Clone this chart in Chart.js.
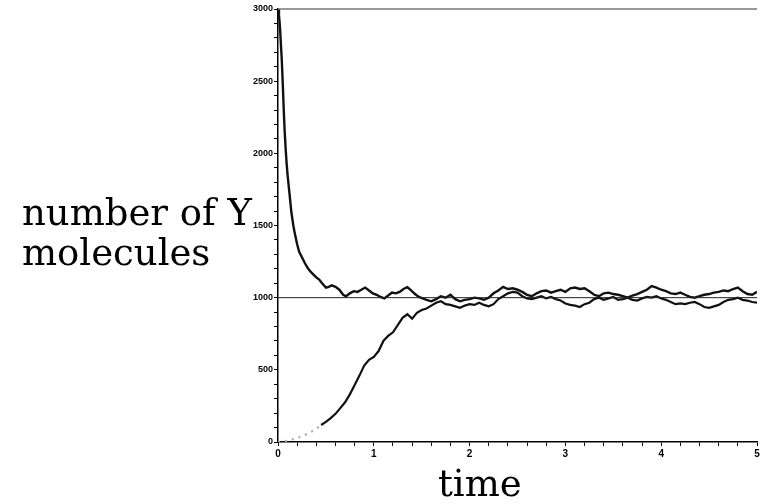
<!DOCTYPE html>
<html>
<head>
<meta charset="utf-8">
<script src="https://cdn.jsdelivr.net/npm/chart.js@4/dist/chart.umd.min.js"></script>
<style>
  html, body { margin: 0; padding: 0; background: #fff; }
  #wrap { position: relative; width: 770px; height: 504px; }
  canvas { position: absolute; left: 0; top: 0; }
  .lbl { position: absolute; font-family: "DejaVu Serif", serif; font-size: 37px; line-height: 40px; color: #000; white-space: nowrap; }
</style>
</head>
<body>
<div id="wrap">
  <canvas id="c" width="770" height="504"></canvas>
  <div class="lbl" id="ylab" style="left:22px; top:193px;">number of Y<br>molecules</div>
  <div class="lbl" id="xlab" style="left:438px; top:464px;">time</div>
</div>
<script>
// ---- data ----
const tDecay = [0,0.01,0.02,0.03,0.04,0.05,0.06,0.07,0.08,0.09,0.10,0.12,0.14,0.16,0.18,0.20,0.22,0.25,0.28,0.31,0.34,0.37,0.40,0.43,0.46,0.50,0.53,0.56,0.60,0.64,0.68,0.71,0.75,0.79,0.83,0.87,0.91,0.95,0.99,1.03,1.07,1.11,1.15,1.19,1.23,1.27,1.31,1.35,1.39,1.43,1.47,1.51,1.55,1.60,1.65,1.70,1.75,1.80,1.85,1.90,1.95,2.00,2.05,2.10,2.15,2.20,2.25,2.30,2.35,2.40,2.45,2.50,2.55,2.60,2.65,2.70,2.75,2.80,2.85,2.90,2.95,3.00,3.05,3.10,3.15,3.20,3.25,3.30,3.35,3.40,3.45,3.50,3.55,3.60,3.65,3.70,3.75,3.80,3.85,3.90,3.95,4.00,4.05,4.10,4.15,4.20,4.25,4.30,4.35,4.40,4.45,4.50,4.55,4.60,4.65,4.70,4.75,4.80,4.85,4.90,4.95,5.00];
const yDecay = [3000,2960,2880,2760,2640,2480,2300,2150,2030,1930,1850,1720,1590,1500,1430,1370,1320,1280,1240,1205,1180,1160,1140,1125,1100,1070,1075,1085,1075,1055,1020,1010,1030,1045,1040,1055,1070,1050,1030,1020,1005,995,1015,1035,1030,1040,1060,1072,1050,1025,1005,995,985,975,990,1010,1000,1020,990,975,985,990,1000,995,985,1000,1030,1050,1075,1060,1065,1055,1040,1020,1010,1030,1045,1050,1035,1045,1055,1040,1065,1070,1060,1065,1045,1020,1010,1030,1035,1025,1020,1010,1000,1015,1025,1040,1055,1080,1070,1055,1045,1030,1025,1035,1020,1005,1000,1010,1020,1025,1035,1040,1050,1045,1060,1070,1045,1025,1020,1040];

const tRise = [0,0.05,0.10,0.15,0.20,0.25,0.30,0.35,0.40,0.45,0.50,0.55,0.60,0.65,0.70,0.75,0.80,0.85,0.90,0.95,1.00,1.05,1.10,1.15,1.20,1.25,1.30,1.35,1.40,1.45,1.50,1.55,1.60,1.65,1.70,1.75,1.80,1.85,1.90,1.95,2.00,2.05,2.10,2.15,2.20,2.25,2.30,2.35,2.40,2.45,2.50,2.55,2.60,2.65,2.70,2.75,2.80,2.85,2.90,2.95,3.00,3.05,3.10,3.15,3.20,3.25,3.30,3.35,3.40,3.45,3.50,3.55,3.60,3.65,3.70,3.75,3.80,3.85,3.90,3.95,4.00,4.05,4.10,4.15,4.20,4.25,4.30,4.35,4.40,4.45,4.50,4.55,4.60,4.65,4.70,4.75,4.80,4.85,4.90,4.95,5.00];
const yRise = [0,3,10,18,28,40,55,72,92,118,140,165,195,235,275,330,395,460,530,570,590,630,700,735,760,810,860,885,855,895,915,925,945,965,975,955,950,940,930,945,955,950,965,950,940,955,990,1010,1030,1040,1035,1010,995,990,1000,1010,995,1005,990,980,960,950,945,935,955,965,990,1000,985,995,1005,985,990,1000,985,980,995,1005,1000,1010,995,985,970,955,960,955,965,970,955,935,930,940,950,970,985,990,1000,985,980,970,965];

const tFrame = [0, 5];
const yEquil = [1000, 1000];
const yTop = [3000, 3000];

const yTickLabels = [0, 500, 1000, 1500, 2000, 2500, 3000];
const xTickLabels = [0, 1, 2, 3, 4, 5];
// ------------------------------------

const pts = (ts, ys) => ts.map((t, i) => ({ x: t, y: ys[i] }));

const chart = new Chart(document.getElementById('c'), {
  type: 'line',
  data: {
    datasets: [
      { data: pts(tFrame, yTop), borderColor: '#777', borderWidth: 1.5, pointRadius: 0, clip: false },
      { data: pts(tFrame, yEquil), borderColor: '#222', borderWidth: 1, pointRadius: 0 },
      { data: pts(tDecay, yDecay), borderColor: '#111', borderWidth: 2.4, pointRadius: 0, tension: 0, borderJoinStyle: 'miter' },
      { data: pts(tRise, yRise), borderColor: '#111', borderWidth: 2.2, pointRadius: 0, tension: 0, borderJoinStyle: 'miter',
        segment: {
          borderColor: c => c.p0.parsed.x < 0.45 ? '#aaa' : undefined,
          borderDash: c => c.p0.parsed.x < 0.45 ? [2, 5] : undefined
        } }
    ]
  },
  options: {
    responsive: false,
    animation: false,
    layout: { padding: { left: 230, right: 13, top: 9, bottom: 0 } },
    plugins: { legend: { display: false }, tooltip: { enabled: false } },
    scales: {
      x: {
        type: 'linear', min: 0, max: 5,
        afterFit: s => { s.height = 62; },
        afterBuildTicks: s => {
          const arr = [];
          for (let i = 0; i <= 25; i++) arr.push({ value: i * 0.2 });
          s.ticks = arr;
        },
        ticks: {
          autoSkip: false, maxRotation: 0, padding: 2, color: '#000',
          font: { family: 'Liberation Sans', weight: 'bold', size: 10 },
          callback: v => {
            const r = Math.round(v);
            return (Math.abs(v - r) < 1e-6 && xTickLabels.includes(r)) ? String(r) : '';
          }
        },
        grid: { drawOnChartArea: false, drawTicks: true, tickLength: 4, color: '#000', lineWidth: 1 },
        border: { display: true, color: '#000', width: 1.5 }
      },
      y: {
        type: 'linear', min: 0, max: 3000,
        afterFit: s => { s.width = 48; },
        afterBuildTicks: s => {
          const arr = [];
          for (let v = 0; v <= 3000; v += 100) arr.push({ value: v });
          s.ticks = arr;
        },
        ticks: {
          autoSkip: false, padding: 1, color: '#000',
          font: { family: 'Liberation Sans', weight: 'bold', size: 9 },
          callback: v => yTickLabels.includes(v) ? String(v) : ''
        },
        grid: { drawOnChartArea: false, drawTicks: true, tickLength: 4, color: '#000', lineWidth: 1 },
        border: { display: true, color: '#000', width: 1.5 }
      }
    }
  }
});
</script>
</body>
</html>
